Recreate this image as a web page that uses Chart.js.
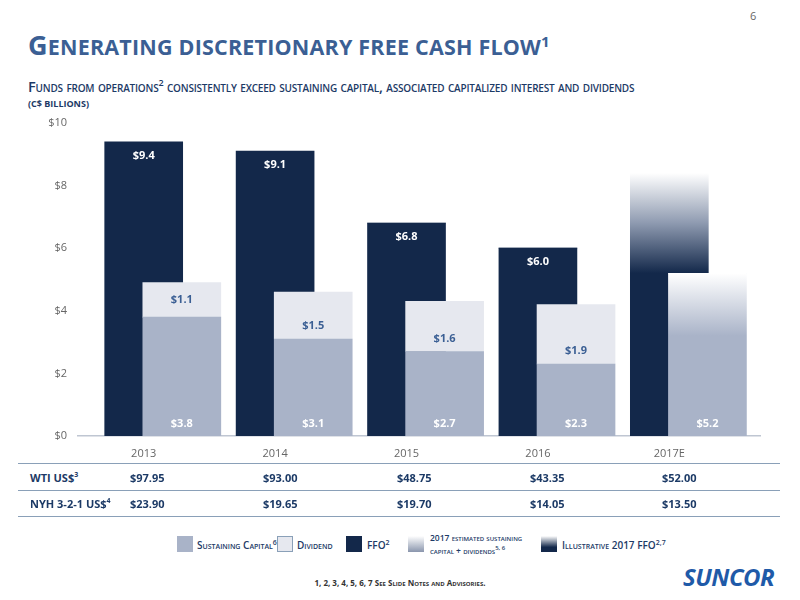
<!DOCTYPE html>
<html lang="en">
<head>
<meta charset="UTF-8">
<title>Generating discretionary free cash flow</title>
<script src="https://cdn.jsdelivr.net/npm/chart.js"></script>
<style>
  body { margin: 0; width: 800px; height: 600px; position: relative; font-family: "Open Sans", "Liberation Sans", sans-serif; background: #fff; overflow: hidden; }
  .abs { position: absolute; }
  #title { left: 28px; top: 26px; font-size: 21.5px; font-weight: bold; color: #3b5f94; font-variant: small-caps; letter-spacing: 0.2px; white-space: nowrap; }
  #title span { font-size: 27px; }
  #sub { left: 28px; top: 76px; font-size: 14.5px; color: #1c3a66; font-variant: small-caps; font-weight: 600; white-space: nowrap; letter-spacing: -0.2px; }
  #unit { left: 28px; top: 97px; font-size: 9px; color: #1c3a66; font-weight: bold; }
  #page { left: 750px; top: 8px; font-size: 11px; color: #666; }
  #wrap { left: 0; top: 110px; width: 780px; height: 356px; }
  .line { left: 18px; width: 762px; height: 0; border-top: 1.5px solid #8aa0b8; }
  .row { left: 30px; font-size: 11px; font-weight: bold; color: #1c3a66; }
  .cell { font-size: 11px; font-weight: bold; color: #1c3a66; }
  .sw { width: 16px; height: 16px; top: 536px; }
  .lg { top: 538px; font-size: 10px; color: #1c3a66; font-variant: small-caps; font-weight: 600; white-space: nowrap; }
  #foot { left: 0; width: 800px; text-align: center; top: 577px; font-size: 8px; color: #333; font-weight: bold; }
  #logo { left: 683px; top: 560px; font-size: 24px; font-weight: bold; font-style: italic; color: #1f5aa8; letter-spacing: -0.5px; }
</style>
</head>
<body>
<div id="page" class="abs">6</div>
<div id="title" class="abs"><span>G</span>ENERATING DISCRETIONARY FREE CASH FLOW<sup style="font-size:15px">1</sup></div>
<div id="sub" class="abs">Funds from operations<sup style="font-size:9px">2</sup> consistently exceed sustaining capital, associated capitalized interest and dividends</div>
<div id="unit" class="abs">(C$ BILLIONS)</div>
<div id="wrap" class="abs"><canvas id="c"></canvas></div>

<div class="abs line" style="top:463px"></div>
<div class="abs line" style="top:490px"></div>
<div class="abs line" style="top:516px"></div>
<div class="abs row" style="top:470px">WTI US$<sup style="font-size:7px">3</sup></div>
<div class="abs row" style="top:496px">NYH 3-2-1 US$<sup style="font-size:7px">4</sup></div>
<div id="cells"></div>

<div class="abs sw" style="left:177px;background:#a9b3c8"></div>
<div class="abs lg" style="left:197px">Sustaining Capital<sup style="font-size:7px">6</sup></div>
<div class="abs sw" style="left:277px;background:#e6e8ef;border:1px solid #8aa0b8;width:14px;height:14px"></div>
<div class="abs lg" style="left:297px">Dividend</div>
<div class="abs sw" style="left:346px;background:#13284a"></div>
<div class="abs lg" style="left:367px">FFO<sup style="font-size:7px">2</sup></div>
<div class="abs sw" style="left:408px;background:linear-gradient(#fff,#8a96ad)"></div>
<div class="abs lg" style="left:430px;top:532px;font-size:8.5px;line-height:11px">2017 estimated sustaining<br>capital + dividends<sup style="font-size:6px">5, 6</sup></div>
<div class="abs sw" style="left:541px;background:linear-gradient(#fff,#13284a 70%)"></div>
<div class="abs lg" style="left:562px">Illustrative 2017 FFO<sup style="font-size:7px">2,7</sup></div>

<div id="foot" class="abs">1, 2, 3, 4, 5, 6, 7 <span style="font-variant:small-caps">See Slide Notes and Advisories.</span></div>
<div id="logo" class="abs">SUNCOR</div>

<script>
const years = ['2013', '2014', '2015', '2016', '2017E'];
const ffo = [9.4, 9.1, 6.8, 6.0, 5.2];
const ffoIllustrative = [0, 0, 0, 0, 3.2];
const sustaining = [3.8, 3.1, 2.7, 2.3, 5.2];
const dividend = [1.1, 1.5, 1.6, 1.9, 0];
const wti = ['$97.95', '$93.00', '$48.75', '$43.35', '$52.00'];
const nyh = ['$23.90', '$19.65', '$19.70', '$14.05', '$13.50'];
const yTicks = [0, 2, 4, 6, 8, 10];

const cellX = [130, 263, 397, 530, 662];
let html = '';
years.forEach((y, i) => {
  html += `<div class="abs cell" style="left:${cellX[i]}px;top:470px">${wti[i]}</div>`;
  html += `<div class="abs cell" style="left:${cellX[i]}px;top:496px">${nyh[i]}</div>`;
});
document.getElementById('cells').innerHTML = html;

const SHIFT = 0.29;
const pts = (arr, dx) => arr.map((v, i) => ({ x: i + dx, y: v }));

function vGrad(ctx, stops) {
  const chart = ctx.chart;
  if (!chart.chartArea) return stops[stops.length - 1][1];
  const ys = chart.scales.y;
  const top = stops[0][0], bot = stops[stops.length - 1][0];
  const g = chart.ctx.createLinearGradient(0, ys.getPixelForValue(top), 0, ys.getPixelForValue(bot));
  stops.forEach(s => g.addColorStop((top - s[0]) / (top - bot), s[1]));
  return g;
}

const labelsPlugin = {
  id: 'labels',
  afterDatasetsDraw(chart) {
    const c = chart.ctx;
    c.save();
    c.font = 'bold 11px "Open Sans", "Liberation Sans", sans-serif';
    c.textAlign = 'center';
    c.textBaseline = 'middle';
    const ys = chart.scales.y;
    chart.getDatasetMeta(0).data.forEach((b, i) => {
      if (i === 4) return;
      c.fillStyle = '#ffffff';
      c.fillText('$' + ffo[i].toFixed(1), b.x, b.y + 14);
    });
    chart.getDatasetMeta(2).data.forEach((b, i) => {
      c.fillStyle = '#ffffff';
      c.fillText('$' + sustaining[i].toFixed(1), b.x, ys.getPixelForValue(0) - 12);
    });
    chart.getDatasetMeta(3).data.forEach((b, i) => {
      if (!dividend[i]) return;
      c.fillStyle = '#3b5f94';
      const y = ys.getPixelForValue(sustaining[i]) - 13;
      c.fillText('$' + dividend[i].toFixed(1), b.x, i === 0 ? ys.getPixelForValue(sustaining[i] + dividend[i] / 2) : y);
    });
    c.restore();
  }
};

new Chart(document.getElementById('c'), {
  type: 'bar',
  data: {
    datasets: [
      { label: 'FFO', data: pts(ffo, 0), stack: 'a', order: 2, backgroundColor: '#13284a' },
      { label: 'Illustrative 2017 FFO', data: pts(ffoIllustrative, 0), stack: 'a', order: 2,
        backgroundColor: ctx => vGrad(ctx, [[8.4, '#ffffff'], [6.8, '#8e9ab0'], [5.2, '#13284a']]) },
      { label: 'Sustaining Capital', data: pts(sustaining, SHIFT), stack: 'b', order: 1,
        backgroundColor: ctx => ctx.dataIndex === 4 ? vGrad(ctx, [[5.2, '#ffffff'], [3.2, '#a9b3c8']]) : '#a9b3c8' },
      { label: 'Dividend', data: pts(dividend, SHIFT), stack: 'b', order: 1, backgroundColor: '#e6e8ef' }
    ]
  },
  options: {
    responsive: true,
    maintainAspectRatio: false,
    animation: false,
    layout: { padding: { top: 13, right: 20 } },
    datasets: { bar: { grouped: false, barThickness: 78 } },
    plugins: { legend: { display: false }, tooltip: { enabled: false } },
    scales: {
      x: {
        type: 'linear', min: -0.5, max: 4.69, stacked: true, offset: false,
        grid: { display: false },
        border: { color: '#bfc6d2', width: 1.5 },
        ticks: { stepSize: 1, color: '#666', font: { size: 11, family: '"Open Sans", "Liberation Sans", sans-serif' },
          callback: v => years[v] ?? '' },
        afterFit: s => { s.height = 30; }
      },
      y: {
        min: 0, max: 10, stacked: true,
        grid: { display: false },
        border: { display: false },
        afterBuildTicks: s => { s.ticks = yTicks.map(v => ({ value: v })); },
        ticks: { color: '#666', font: { size: 11, family: '"Open Sans", "Liberation Sans", sans-serif' },
          callback: v => '$' + v },
        afterFit: s => { s.width = 78; }
      }
    }
  },
  plugins: [labelsPlugin]
});
</script>
</body>
</html>
